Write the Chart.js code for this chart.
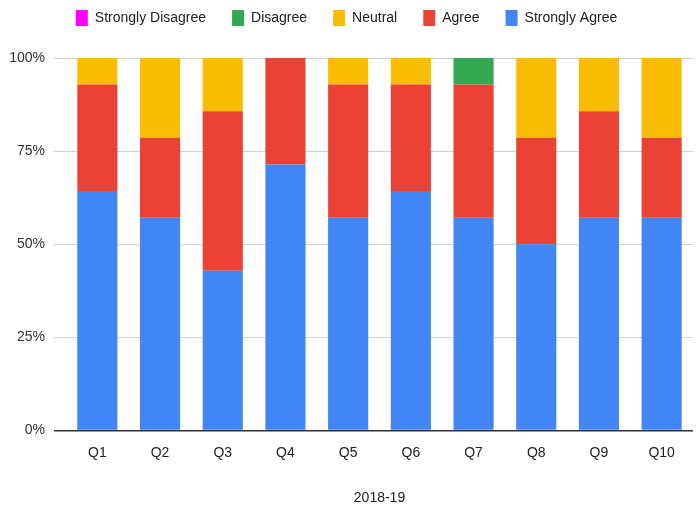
<!DOCTYPE html>
<html lang="en">
<head>
    <meta charset="UTF-8">
    <title>2018-19</title>
    <script src="https://cdn.jsdelivr.net/npm/chart.js"></script>
    <style>
        html, body { margin: 0; padding: 0; background: #fff; }
        #wrap { width: 698px; height: 515px; }
    </style>
</head>
<body>
    <div id="wrap"><canvas id="grafico"></canvas></div>

    <script>
        // shares in percent (14 answers per question)
        const perguntas = ['Q1', 'Q2', 'Q3', 'Q4', 'Q5', 'Q6', 'Q7', 'Q8', 'Q9', 'Q10'];
        const stronglyAgree = [64.3, 57.1, 42.9, 71.4, 57.1, 64.3, 57.1, 50.0, 57.1, 57.1];
        const agree = [28.6, 21.5, 42.8, 28.6, 35.8, 28.6, 35.8, 28.6, 28.6, 21.5];
        const neutral = [7.1, 21.4, 14.3, 0, 7.1, 7.1, 0, 21.4, 14.3, 21.4];
        const disagree = [0, 0, 0, 0, 0, 0, 7.1, 0, 0, 0];
        const stronglyDisagree = [0, 0, 0, 0, 0, 0, 0, 0, 0, 0];
        const yTicks = [0, 25, 50, 75, 100];

        const fonte = { family: 'Liberation Sans, Arial, sans-serif', size: 14 };

        // espaço extra abaixo da legenda
        const legendaEspaco = {
            id: 'legendaEspaco',
            beforeInit(chart) {
                const fitOriginal = chart.legend.fit;
                chart.legend.fit = function () {
                    fitOriginal.bind(chart.legend)();
                    this.height += 22;
                };
            }
        };

        new Chart(document.getElementById('grafico'), {
            type: 'bar',
            data: {
                labels: perguntas,
                datasets: [
                    { label: 'Strongly Agree', data: stronglyAgree, backgroundColor: '#4285f4' },
                    { label: 'Agree', data: agree, backgroundColor: '#ea4335' },
                    { label: 'Neutral', data: neutral, backgroundColor: '#fbbc04' },
                    { label: 'Disagree', data: disagree, backgroundColor: '#34a853' },
                    { label: 'Strongly Disagree', data: stronglyDisagree, backgroundColor: '#ff00ff' }
                ]
            },
            plugins: [legendaEspaco],
            options: {
                responsive: true,
                maintainAspectRatio: false,
                animation: false,
                layout: { padding: { top: -16, right: 5, left: 0, bottom: 8 } },
                datasets: {
                    bar: { categoryPercentage: 1, barPercentage: 0.64 }
                },
                plugins: {
                    legend: {
                        reverse: true,
                        labels: {
                            boxWidth: 12,
                            boxHeight: 16,
                            padding: 26,
                            color: '#222',
                            font: fonte
                        }
                    },
                    tooltip: { enabled: false }
                },
                scales: {
                    x: {
                        stacked: true,
                        grid: { display: false },
                        border: { display: false },
                        ticks: { color: '#222', font: fonte, padding: 6 },
                        title: {
                            display: true,
                            text: '2018-19',
                            color: '#222',
                            font: fonte,
                            padding: { top: 23, bottom: 0 }
                        }
                    },
                    y: {
                        stacked: true,
                        min: 0,
                        max: 100,
                        afterFit: (s) => { s.width = 66; },
                        afterBuildTicks: (s) => { s.ticks = yTicks.map(v => ({ value: v })); },
                        grid: {
                            color: (c) => c.tick && c.tick.value === 0 ? '#333' : '#d0d0d0',
                            lineWidth: (c) => c.tick && c.tick.value === 0 ? 1.5 : 1,
                            tickLength: 12
                        },
                        border: { display: false },
                        ticks: {
                            color: '#333',
                            font: fonte,
                            padding: 9,
                            callback: (v) => v + '%'
                        }
                    }
                }
            }
        });
    </script>
</body>
</html>
